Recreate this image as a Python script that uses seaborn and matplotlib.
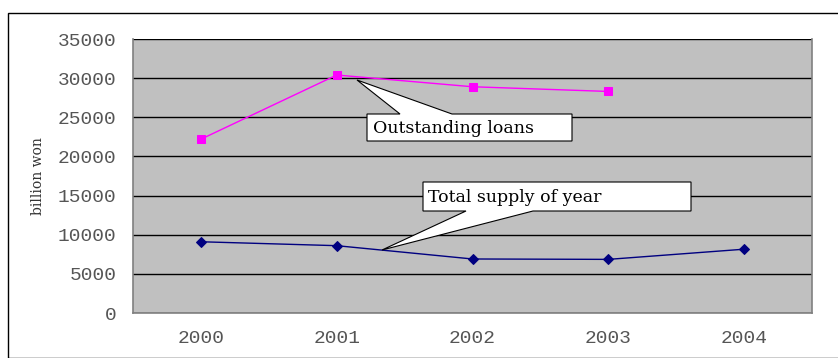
import matplotlib
matplotlib.use("Agg")
import matplotlib.pyplot as plt
import seaborn as sns
import pandas as pd
from matplotlib.patches import Polygon, Rectangle

years = ["2000", "2001", "2002", "2003", "2004"]
outstanding_loans = [22200, 30400, 28900, 28300, None]
total_supply = [9100, 8600, 6900, 6850, 8150]
y_ticks = [0, 5000, 10000, 15000, 20000, 25000, 30000, 35000]

sns.set_theme(style="white")
plt.rcParams['font.family'] = ['Liberation Mono', 'DejaVu Sans']

W, H = 838, 358
fig = plt.figure(figsize=(W / 100, H / 100), dpi=100)
fig.patch.set_facecolor("white")
# outer chart border
fig.patches.append(Rectangle((8 / W, 0), 1.2, 1 - 13 / H, transform=fig.transFigure,
                             fill=False, edgecolor="black", linewidth=1.0))

ax = fig.add_axes([133 / W, 1 - 313 / H, 679 / W, 274 / H])
ax.set_facecolor("#C0C0C0")

df = pd.DataFrame({"idx": range(len(years)), "year": years,
                   "loans": outstanding_loans, "supply": total_supply})
dl = df.dropna(subset=["loans"])
sns.lineplot(data=dl, x="idx", y="loans", ax=ax, color="#FF00FF", marker="s",
             markersize=6, markeredgecolor="#FF00FF", linewidth=1.0, zorder=3)
sns.lineplot(data=df, x="idx", y="supply", ax=ax, color="#000080", marker="D",
             markersize=5, markeredgecolor="#000080", linewidth=1.0, zorder=3)

ax.set_xlim(-0.5, len(years) - 0.5)
ax.set_ylim(0, 35000)
ax.set_yticks(y_ticks)
ax.set_yticklabels([str(v) for v in y_ticks])
ax.set_xticks(range(len(years)))
ax.set_xticklabels(years)
ax.set_xticks([i + 0.5 for i in range(len(years) - 1)], minor=True)
ax.tick_params(axis="x", which="major", length=0, pad=12, labelsize=14, labelcolor="#555555")
ax.tick_params(axis="x", which="minor", length=4, direction="in", color="#808080", width=1)
ax.tick_params(axis="y", length=0, pad=12, labelsize=14, labelcolor="#555555")
ax.grid(axis="y", color="black", linewidth=1.0)
ax.set_axisbelow(True)
ax.set_xlabel("")
ax.set_ylabel("billion won", family="DejaVu Serif", fontsize=10, color="#333333", labelpad=9)
for s in ["top"]:
    ax.spines[s].set_visible(False)
for s in ["left", "bottom", "right"]:
    ax.spines[s].set_color("#808080")
    ax.spines[s].set_linewidth(1.2)


def callout(pts, text, tx, ty):
    poly = Polygon([(x / W, 1 - y / H) for x, y in pts], closed=True, transform=fig.transFigure,
                   facecolor="white", edgecolor="black", linewidth=0.8, zorder=5)
    fig.patches.append(poly)
    fig.text(tx / W, 1 - ty / H, text, family="DejaVu Serif", fontsize=12.5,
             va="center", ha="left", color="black", zorder=6)


callout([(367, 114), (400, 114), (357, 80), (452, 114), (572, 114), (572, 141), (367, 141)],
        "Outstanding loans", 373, 128)
callout([(423, 182), (691, 182), (691, 211), (533, 211), (382, 250), (466, 211), (423, 211)],
        "Total supply of year", 428, 197)

fig.savefig("out.png", dpi=100)
